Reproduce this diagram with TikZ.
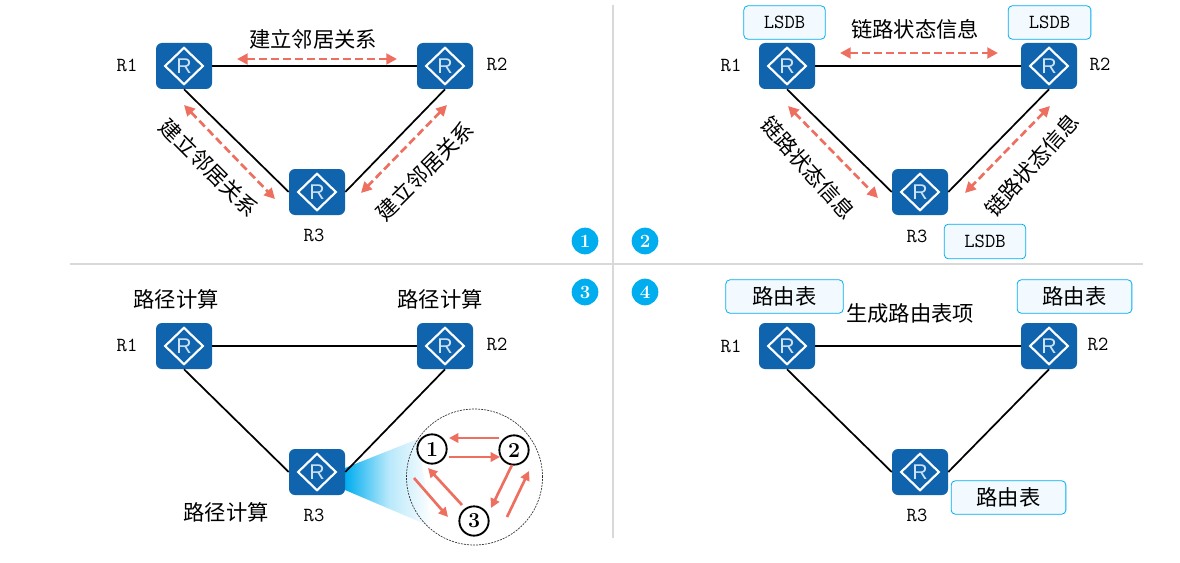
\documentclass[tikz,border=0pt]{standalone}
\usepackage{fontspec}
\newfontfamily\cjk{Noto Sans CJK SC}
\newfontfamily\rfont{Liberation Sans}
\usetikzlibrary{arrows.meta,shapes.geometric}
\definecolor{rblue}{HTML}{1063AD}
\definecolor{sky}{HTML}{00ADEF}
\definecolor{salmon}{HTML}{EE6F5F}
\definecolor{paleblue}{HTML}{F2FAFF}
\definecolor{divider}{HTML}{D9D9D9}
\definecolor{rletter}{HTML}{CFE3F5}
\tikzset{
  x=0.75pt,y=-0.75pt,
  routerbox/.style={draw=none,fill=rblue,rounded corners=4.5pt,minimum width=42pt,minimum height=34.5pt,inner sep=0pt},
  routerdia/.style={diamond,draw=white,line width=1.6pt,minimum width=29pt,minimum height=28pt,inner sep=0pt,aspect=1,
     text=rletter,font=\rfont\fontsize{16}{16}\selectfont},
  link/.style={draw=black,line width=1.3pt},
  exch/.style={draw=salmon,line width=2pt,dash pattern=on 6pt off 3pt,{Triangle[length=8pt,width=8pt]}-{Triangle[length=8pt,width=8pt]}},
  solidarrow/.style={draw=salmon,line width=2pt,-{Triangle[length=7pt,width=7pt]}},
  rlabel/.style={inner sep=0pt,font=\ttfamily\fontsize{15}{15}\selectfont},
  zh/.style={inner sep=0pt,font=\cjk\fontsize{16}{17}\selectfont},
  dbbox/.style={draw=sky,fill=paleblue,line width=0.6pt,rounded corners=3pt,inner sep=0pt,minimum height=25pt},
  badge/.style={circle,fill=sky,text=white,minimum size=20pt,inner sep=0pt,font=\bfseries\fontsize{14}{14}\selectfont},
  seq/.style={circle,draw=black,fill=white,line width=1.4pt,minimum size=22pt,inner sep=0pt,font=\bfseries\fontsize{16}{16}\selectfont},
  divline/.style={draw=divider,line width=1.5pt},
}
\newcommand{\router}[3]{\node[routerbox] (#1) at (#2,#3) {};\node[routerdia] (#1d) at (#2,#3) {R};}
\newcommand{\exchange}[5]{\coordinate (#1a) at (#2,#3);\coordinate (#1b) at (#4,#5);\draw[exch] (#1a) -- (#1b);}
\newcommand{\seqarrow}[5]{\coordinate (#1a) at (#2,#3);\coordinate (#1b) at (#4,#5);\draw[solidarrow] (#1a) -- (#1b);}
\begin{document}
\begin{tikzpicture}
\useasboundingbox (0,0) rectangle (1180,563);
\fill[white] (0,0) rectangle (1180,563);
% dividers
\coordinate (hl) at (70,264);\coordinate (hr) at (1143,264);
\coordinate (vt) at (613,5);\coordinate (vb) at (613,538);
\draw[divline] (hl) -- (hr);
\draw[divline] (vt) -- (vb);
% badges
\node[badge] (b1) at (585,241) {1};
\node[badge] (b2) at (645,241) {2};
\node[badge] (b3) at (585,292) {3};
\node[badge] (b4) at (645,292) {4};
% panel 1
\router{a1}{184}{66}\router{a2}{445}{66}\router{a3}{317}{192}
\draw[link] (a1) -- (a2);
\draw[link] (a1.south) -- (a3.west);
\draw[link] (a2.south) -- (a3.east);
\exchange{ax}{237}{59}{397}{59}
\exchange{ay}{184}{105}{275}{199}
\exchange{az}{447}{105}{361}{193}
\node[rlabel] (al1) at (127,65) {R1};
\node[rlabel] (al2) at (497,64) {R2};
\node[rlabel] (al3) at (314,235) {R3};
\node[zh] (at1) at (313,39) {建立邻居关系};
\node[zh,rotate=-45] (at2) at (209,168) {建立邻居关系};
\node[zh,rotate=45] (at3) at (425,171) {建立邻居关系};
% panel 2
\router{c1}{787}{66}\router{c2}{1049}{66}\router{c3}{920}{192}
\draw[link] (c1) -- (c2);
\draw[link] (c1.south) -- (c3.west);
\draw[link] (c2.south) -- (c3.east);
\exchange{cx}{840}{53}{998}{53}
\exchange{cy}{788}{106}{878}{198}
\exchange{cz}{1050}{106}{965}{193}
\node[rlabel] (cl1) at (731,65) {R1};
\node[rlabel] (cl2) at (1100,64) {R2};
\node[rlabel] (cl3) at (917,236) {R3};
\node[zh] (ct1) at (915,29) {链路状态信息};
\node[zh,rotate=-48] (ct2) at (808,168) {链路状态信息};
\node[zh,rotate=48] (ct3) at (1032,165) {链路状态信息};
\node[dbbox,rlabel,minimum width=61pt,minimum height=25pt,draw=sky,fill=paleblue] (cd1) at (784.5,22.5) {LSDB};
\node[dbbox,rlabel,minimum width=62pt,minimum height=25pt,draw=sky,fill=paleblue] (cd2) at (1049.5,22.5) {LSDB};
\node[dbbox,rlabel,minimum width=61pt,minimum height=26pt,draw=sky,fill=paleblue] (cd3) at (985,241.5) {LSDB};
% panel 3
\coordinate (fan1) at (345,468);\coordinate (fan2) at (418,439);\coordinate (fan3) at (432,527);\coordinate (fan4) at (345,490);
\shade[left color=sky,right color=white,middle color=sky!28] (fan1) -- (fan2) -- (fan3) -- (fan4) -- cycle;
\router{e1}{184}{346}\router{e2}{445}{346}\router{e3}{317}{472}
\draw[link] (e1) -- (e2);
\draw[link] (e1.south) -- (e3.west);
\draw[link] (e2.south) -- (e3.east);
\node[rlabel] (el1) at (127,345) {R1};
\node[rlabel] (el2) at (497,344) {R2};
\node[rlabel] (el3) at (314,515) {R3};
\node[zh] (et1) at (176,299) {路径计算};
\node[zh] (et2) at (440,299) {路径计算};
\node[zh] (et3) at (226,512) {路径计算};
\node[circle,draw=black!80,dashed,line width=0.5pt,dash pattern=on 1.5pt off 0.8pt,minimum size=102pt,inner sep=0pt] (bubble) at (474.5,477) {};
\node[seq] (s1) at (432,449) {1};
\node[seq] (s2) at (514,450) {2};
\node[seq] (s3) at (474,521) {3};
\seqarrow{q1}{499}{438}{449}{438}
\seqarrow{q2}{449}{457}{500}{457}
\seqarrow{q3}{462}{505}{428}{468}
\seqarrow{q4}{414}{478}{448}{517}
\seqarrow{q5}{512}{465}{491}{508}
\seqarrow{q6}{507}{517}{529}{471}
% panel 4
\router{g1}{787}{346}\router{g2}{1049}{346}\router{g3}{920}{472}
\draw[link] (g1) -- (g2);
\draw[link] (g1.south) -- (g3.west);
\draw[link] (g2.south) -- (g3.east);
\node[rlabel] (gl1) at (731,346) {R1};
\node[rlabel] (gl2) at (1098,344) {R2};
\node[rlabel] (gl3) at (917,515) {R3};
\node[zh] (gt1) at (910,313) {生成路由表项};
\node[dbbox,zh,minimum width=88pt,minimum height=25pt,draw=sky,fill=paleblue] (gd1) at (784.5,296.5) {路由表};
\node[dbbox,zh,minimum width=86pt,minimum height=25pt,draw=sky,fill=paleblue] (gd2) at (1074.5,296.5) {路由表};
\node[dbbox,zh,minimum width=86pt,minimum height=25pt,draw=sky,fill=paleblue] (gd3) at (1008.5,497.5) {路由表};
\end{tikzpicture}
\end{document}
